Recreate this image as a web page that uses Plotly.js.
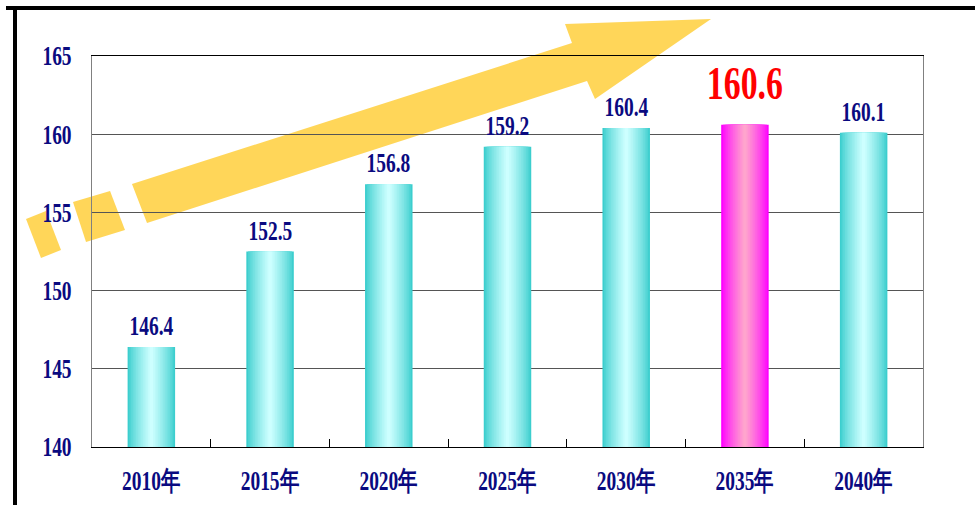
<!DOCTYPE html>
<html>
<head>
<meta charset="utf-8">
<script src="https://cdn.plot.ly/plotly-3.0.1.min.js"></script>
<style>html,body{margin:0;padding:0;background:#fff;}#chart{width:975px;height:505px;}</style>
</head>
<body>
<div id="chart"></div>
<script>
// ---- data ----
const categories = ['2010年', '2015年', '2020年', '2025年', '2030年', '2035年', '2040年'];
const values = [146.4, 152.5, 156.8, 159.2, 160.4, 160.6, 160.1];
const highlight = [false, false, false, false, false, true, false];
const yTickVals = [140, 145, 150, 155, 160, 165];
const yTickText = ['140', '145', '150', '155', '160', '165'];

// ---- styling ----
const W = 975, H = 505;
const M = {l: 92, r: 52, t: 56, b: 58};
const navy = '#0a0a80';
const fontFam = 'Liberation Serif, Times New Roman, serif';
const SQUEEZE = 0.72; // horizontal condensing of the text

function mix(a, b, t) {
  return 'rgb(' + a.map((v, k) => Math.round(v + (b[k] - v) * t)).join(',') + ')';
}
const cyanEdge = [60, 206, 206], cyanMid = [205, 255, 255];
const pinkEdge = [255, 0, 255], pinkMid = [255, 165, 205];

// gradient built from overlaid bars of decreasing width
const N = 14, fullW = 0.4;
const traces = [];
for (let i = 0; i < N; i++) {
  const t = Math.pow(i / (N - 1), 0.8);
  traces.push({
    type: 'bar',
    x: categories,
    y: values,
    width: fullW * (1 - i / N),
    marker: {
      color: highlight.map(h => h ? mix(pinkEdge, pinkMid, t) : mix(cyanEdge, cyanMid, t)),
      line: {width: 0}
    },
    hoverinfo: 'skip',
    showlegend: false
  });
}

// value labels
const annotations = categories.map((c, i) => ({
  x: c, y: values[i], xref: 'x', yref: 'y',
  text: values[i].toFixed(1),
  showarrow: false, yanchor: 'bottom', yshift: highlight[i] ? 14 : 4,
  font: {family: fontFam, size: highlight[i] ? 47 : 27, color: highlight[i] ? '#ff0000' : navy, weight: 'bold'}
}));

// decoration: pixel -> paper
const pw = W - M.l - M.r, ph = H - M.t - M.b;
const X = x => (x - M.l) / pw;
const Y = y => (H - M.b - y) / ph;
function poly(pts) {
  return 'M' + pts.map(p => X(p[0]).toFixed(4) + ',' + Y(p[1]).toFixed(4)).join(' L') + ' Z';
}
const arrowParts = [
  [[26, 219], [46, 211], [61, 250], [41, 258]],
  [[73, 202], [110, 191], [125, 230], [86, 242]],
  [[132, 184], [572, 43], [565, 24], [711, 19], [595, 99], [587, 81], [147, 223]]
];
const shapes = arrowParts.map(p => ({
  type: 'path', xref: 'paper', yref: 'paper', path: poly(p),
  fillcolor: 'rgb(255,192,0)', opacity: 0.65, line: {width: 0}, layer: 'below'
}));
// outer frame lines (top and left)
shapes.push({type: 'line', xref: 'paper', yref: 'paper', x0: X(6), x1: X(980), y0: Y(8), y1: Y(8), line: {color: '#000', width: 4}, layer: 'above'});
shapes.push({type: 'line', xref: 'paper', yref: 'paper', x0: X(15), x1: X(15), y0: Y(6), y1: Y(510), line: {color: '#000', width: 4}, layer: 'above'});

const tickFont = {family: fontFam, size: 27, color: navy, weight: 'bold'};
const layout = {
  width: W, height: H,
  margin: M,
  paper_bgcolor: '#fff', plot_bgcolor: 'rgba(0,0,0,0)',
  barmode: 'overlay',
  showlegend: false,
  xaxis: {
    type: 'category',
    showline: true, linecolor: '#000', linewidth: 1, mirror: true,
    ticks: 'inside', tickson: 'boundaries', ticklen: 8, tickcolor: '#000',
    tickfont: tickFont,
    ticklabelstandoff: 10,
    showgrid: false, fixedrange: true
  },
  yaxis: {
    range: [140, 165],
    tickvals: yTickVals, ticktext: yTickText,
    showline: true, linecolor: '#808080', linewidth: 1, mirror: true,
    showgrid: true, gridcolor: '#555', gridwidth: 1,
    zeroline: false, ticks: '',
    tickfont: tickFont,
    ticklabelstandoff: 14, fixedrange: true
  },
  annotations: annotations,
  shapes: shapes
};

function squeeze(sel, anchor) {
  document.querySelectorAll(sel).forEach(el => {
    const bb = el.getBBox();
    const ax = anchor === 'end' ? bb.x + bb.width : bb.x + bb.width / 2;
    const prev = el.getAttribute('transform') || '';
    el.setAttribute('transform', prev + ' translate(' + ax + ',0) scale(' + SQUEEZE + ',1) translate(' + (-ax) + ',0)');
  });
}

Plotly.newPlot('chart', traces, layout, {displayModeBar: false, staticPlot: true}).then(() => {
  squeeze('.xtick text', 'middle');
  squeeze('.ytick text', 'end');
  squeeze('.annotation-text', 'middle');
});
</script>
</body>
</html>
